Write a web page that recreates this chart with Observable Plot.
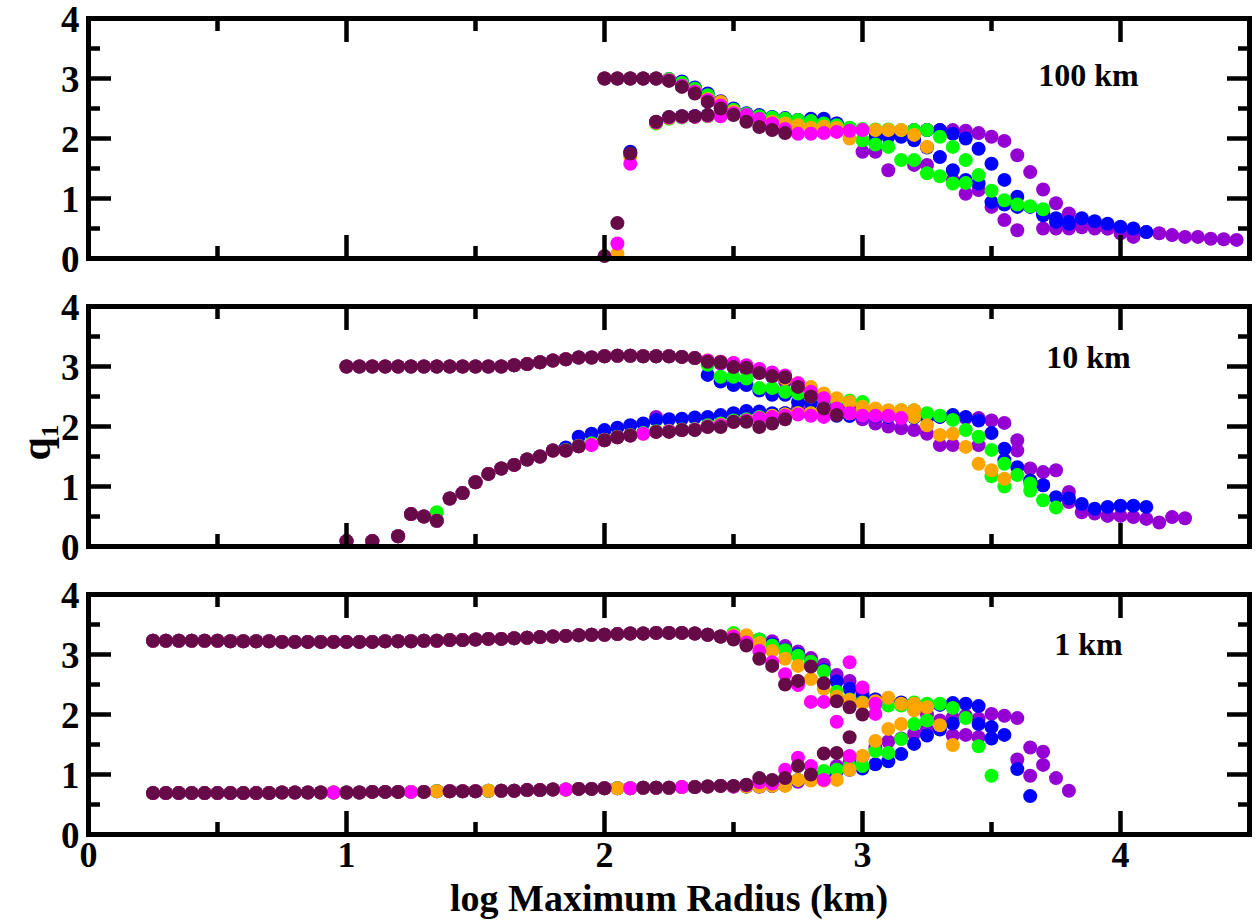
<!DOCTYPE html>
<html>
<head>
<meta charset="utf-8">
<script src="https://cdn.jsdelivr.net/npm/d3@7"></script>
<script src="https://cdn.jsdelivr.net/npm/@observablehq/plot@0.6"></script>
<style>
  html, body { margin: 0; padding: 0; background: #fff; }
  #chart svg { display: block; }
</style>
</head>
<body>
<div id="chart"></div>
<script>
// ---------------- data ----------------
// drawing order (last on top): violet, blue, green, orange, magenta, maroon
const seriesNames = ["S1", "S2", "S3", "S4", "S5", "S6"];
const seriesColors = ["#9400d3", "#0000ff", "#00ff00", "#ffa500", "#ff00ff", "#670a48"];
const [VIO, BLU, GRN, ORG, MAG, MAR] = seriesNames;
const panelLabels = ["100 km", "10 km", "1 km"];
const xTitle = "log Maximum Radius (km)";
const yTitle = "q\u2081";
const xStep = 0.05;
const xMajor = [0, 1, 2, 3, 4];
const xMinor = [0.5, 1.5, 2.5, 3.5];
const yMajor = [0, 1, 2, 3, 4];
const yMinor = [0.5, 1.5, 2.5, 3.5];

// ---- panel "100 km" (x grid starts at 2.0) ----
const p100UpCommon = [3.00, 3.00, 3.00, 3.00, 3.00]; // 2.0 .. 2.2, all series
// upper-branch tails start at 2.25, lower branches start at 2.0
const p100MaroonUp = [2.96, 2.86, 2.75, 2.61, 2.50, 2.39, 2.28, 2.19, 2.14, 2.09];
const p100MaroonLo = [0.04, 0.59, 1.75, null, 2.28, 2.36, 2.37, 2.37, 2.39];
const p100MagentaUp = [2.97, 2.88, 2.78, 2.64, 2.55, 2.42, 2.39, 2.33, 2.25, 2.16, 2.08, 2.08, 2.09, 2.11, 2.13, 2.14];
const p100MagentaLo = [null, 0.25, 1.58, null, 2.27, 2.35, 2.36, 2.36, 2.38, 2.37];
const p100OrangeUp = [2.97, 2.88, 2.78, 2.66, 2.61, 2.45, 2.38, 2.32, 2.28, 2.25, 2.22, 2.18, 2.20, 2.18, 2.00, 2.14, 2.14, 2.14, 2.14, 2.06, 1.86];
const p100OrangeLo = [null, 0.08, 1.70, null, 2.26, 2.34, 2.36, 2.36, 2.38, 2.38];
const p100GreenUp = [2.99, 2.93, 2.83, 2.72, 2.60, 2.48, 2.41, 2.37, 2.35, 2.33, 2.31, 2.29, 2.25, 2.22, 2.18,
  2.16, 2.15, 2.15, 2.14, 2.14, 2.14, 2.03, 1.86, 1.64, 1.39, 1.13, 0.97, 0.90, 0.87, 0.82];
const p100GreenLo = [null, null, 1.72, null, 2.25, 2.33, 2.35, 2.36, 2.37, 2.38,
  null, null, null, null, null, null, null, null, null, null,
  1.97, 1.90, 1.86, 1.64, 1.64, 1.42, 1.37, 1.25, 1.26];
const p100BlueUp = [2.99, 2.95, 2.85, 2.75, 2.62, 2.50, 2.42, 2.39, 2.36, 2.34, 2.31, 2.33, 2.33, 2.25, 2.17,
  2.14, 2.10, 2.10, 2.12, 2.14, 2.14, 2.14, 2.08, 2.00, 1.83, 1.58, 1.31, 1.03, 0.86, 0.75,
  0.67, 0.61, 0.67, 0.62, 0.58, 0.53, 0.50, 0.44];
const p100BlueLo = [null, null, 1.78, null, 2.27, 2.35, 2.37, 2.37, 2.39, 2.39,
  null, null, null, null, null, null, null, null, null, null, null,
  2.00, 2.03, 2.03, 1.97, 1.85, 1.69, 1.47, 1.31, 1.25, 0.94, 0.90, 0.86, null, 0.72, 0.61, 0.58];
const p100PurpleUp = [2.98, 2.90, 2.80, 2.68, 2.56, 2.45, 2.40, 2.37, 2.35, 2.33, 2.31, 2.30, 2.28, 2.25, 2.17,
  2.14, 2.12, 2.12, 2.12, 2.13, 2.14, 2.14, 2.14, 2.13, 2.09, 2.03, 1.96, 1.72, 1.44, 1.15,
  0.92, 0.75, 0.64, 0.56, 0.50, 0.47, 0.39, 0.44, 0.42, 0.39, 0.36, 0.36, 0.33, 0.32, 0.31];
const p100PurpleLo = [null, null, 1.76, null, 2.27, 2.35, 2.36, 2.37, 2.38, 2.38,
  null, null, null, null, null, null, null, null, null, null,
  1.78, 1.78, 1.47, null, 1.56, 1.56, null, 1.31, 1.08, 1.14,
  0.86, 0.64, 0.47, null, 0.50, 0.50, 0.50, 0.52, 0.50, 0.50, 0.42, 0.36];

// ---- panel "10 km" (x grid starts at 1.0) ----
const p10UpCommon = [3.00, 3.00, 3.00, 3.00, 3.00, 3.00, 3.00, 3.00, 3.00, 3.00,
  3.00, 3.00, 3.00, 3.02, 3.04, 3.07, 3.10, 3.12, 3.15, 3.15,
  3.17, 3.18, 3.18, 3.17, 3.17, 3.17, 3.16, 3.14]; // 1.0 .. 2.35
const p10LoCommon = [0.09, null, 0.09, null, 0.17, 0.54, 0.50, 0.43, 0.80, 0.89,
  1.07, 1.21, 1.30, 1.36, 1.45, 1.50, 1.60]; // 1.0 .. 1.8
const p10GreenLoEarly = [0.57]; // green peeks out at x = 1.35
// upper tails start at 2.4, lower tails at 1.85
const p10MaroonUp = [3.08, 3.07, 2.99, 2.98, 2.89, 2.84, 2.82, 2.66, 2.50, 2.30, 2.19];
const p10MaroonLo = [1.60, 1.67, null, 1.77, 1.82, 1.85, null, 1.91, 1.91, 1.94, 1.94, 1.99, 1.99, 2.08, 2.08, 1.99, 2.05, 2.12];
const p10MagentaUp = [3.10, 3.08, 3.06, 3.02, 2.96, 2.90, 2.85, 2.72, 2.58, 2.47, 2.30, 2.22, 2.18, 2.18, 2.18, 2.14];
const p10MagentaLo = [1.60, 1.67, 1.69, 1.77, 1.82, 1.85, 1.88, 1.91, 1.92, 1.94, 1.95, 2.00, 2.02, 2.08, 2.10, 2.14, 2.16, 2.18, 2.20, 2.18, 2.16];
const p10OrangeUp = [3.10, 3.08, 3.06, 3.00, 2.95, 2.88, 2.80, 2.72, 2.66, 2.55, 2.47, 2.41, 2.33, 2.30, 2.27, 2.27,
  2.27, 2.02, 1.86, 1.88, 1.66, 1.38, 1.27, 1.13];
const p10OrangeLo = [1.60, 1.67, 1.70, 1.77, 1.82, 1.85, 1.88, 1.91, 1.92, 1.94, 1.95, 2.00, 2.03, 2.08, 2.10, 2.14,
  2.18, 2.20, 2.22, 2.22, 2.22, 2.22, 2.22, 2.20, 2.20, 2.18, 2.16, 2.16];
const p10GreenUp = [3.03, 2.83, 2.83, 2.80, 2.64, 2.64, 2.58, 2.55, 2.50, 2.47, 2.44, 2.43, 2.41, 2.27, 2.25, 2.27,
  2.27, 2.22, 2.18, 2.11, 1.94, 1.83, 1.61, 1.38, 1.19, 1.05, 0.77, 0.65];
const p10GreenLo = [1.61, 1.68, 1.72, 1.78, 1.83, 1.86, 1.89, 1.92, 1.93, 1.95, 1.96, 2.02, 2.05, 2.10, 2.12, 2.16,
  2.18, 2.20, 2.22, 2.22, 2.22, 2.22, 2.22, 2.22, 2.22, 2.20, 2.18, 2.16, null, null, null, null, null, 1.17, 1.00, null, 0.93];
const p10BlueUp = [2.86, 2.75, 2.69, 2.69, 2.60, 2.53, 2.53, 2.41, 2.39, 2.30, 2.25, 2.22, 2.20, 2.19, 2.18, 2.17,
  2.16, 2.16, 2.16, 2.19, 2.16, 2.10, 1.89, 1.63, 1.32, 1.10, 1.02, 0.82, 0.80, 0.71, 0.63, 0.66, 0.68, 0.68, 0.66];
const p10BlueLo = [1.65, 1.83, 1.88, 1.94, 1.98, 2.02, 2.05, 2.11, 2.12, 2.13, 2.15, 2.16, 2.19, 2.22, 2.26, 2.25,
  2.22, 2.22, 2.22, 2.20, 2.20, 2.18, 2.18, 2.17, 2.17, 2.16, 2.15, 2.15, 2.14, null, null, null, null, null, 1.44];
const p10PurpleUp = [3.08, 3.05, 3.00, 2.95, 2.90, 2.83, 2.75, 2.65, 2.55, 2.45, 2.38, 2.32, 2.27, 2.25, 2.22, 2.20,
  2.20, 2.18, 2.16, 2.15, 2.14, 2.14, 2.10, 2.06, 1.77, 1.30, 1.24, 1.27, 0.91, 0.57, 0.55, 0.51, 0.51, 0.49,
  0.46, 0.40, 0.49, 0.47];
const p10PurpleLo = [1.60, 1.67, 1.70, 1.77, 1.82, 1.85, 1.89, 2.16, 1.92, 1.94, 1.95,
  2.00, 2.03, 2.08, 2.10, 2.14, 2.18, 2.22, 2.30,
  2.25, 2.22, 2.20, 2.18, 2.12, 2.05, 2.00, 1.97, 1.94, 1.88, 1.69, 1.69, null, 1.69, null, null, 1.60, null, 1.02, null, 0.74];

// ---- panel "1 km" (x grid starts at 0.25) ----
const p1kUpCommon = [3.23, 3.23, 3.23, 3.23, 3.23, 3.23, 3.22, 3.22, 3.22, 3.22,
  3.21, 3.21, 3.21, 3.21, 3.21, 3.21, 3.21, 3.21, 3.22, 3.22,
  3.22, 3.23, 3.23, 3.24, 3.24, 3.25, 3.26, 3.26, 3.27, 3.28,
  3.29, 3.30, 3.31, 3.32, 3.33, 3.33, 3.34, 3.35, 3.35, 3.36,
  3.36, 3.36, 3.35, 3.33, 3.30]; // 0.25 .. 2.45
const p1kLoCommon = [0.69, 0.69, 0.69, 0.69, 0.69, 0.69, 0.69, 0.69, 0.69, 0.69,
  0.70, 0.70, 0.70, 0.70, 0.70, 0.70, 0.70, 0.71, 0.71, 0.71,
  0.71, 0.71, 0.72, 0.72, 0.72, 0.72, 0.73, 0.73, 0.73, 0.74,
  0.74, 0.75, 0.75, 0.76, 0.76, 0.77, 0.77, 0.77, 0.78, 0.78,
  0.78, 0.79, 0.79, 0.80, 0.81]; // 0.25 .. 2.45
const p1kMaroonLoGaps = [0.95, 1.25, 1.35, 1.55, 1.85, 2.05, 2.1, 2.3];
const p1kMagentaLoGaps = [1.35, 1.55, 2.05];
// tails start at 2.5
const p1kMaroonUp = [3.25, 3.15, 2.93, 2.81, 2.50, 2.56, 2.80, 2.52, 2.22, 2.12, 2.00];
const p1kMaroonLo = [0.81, 0.83, 0.94, 0.91, 0.94, 1.14, 1.00, 1.35, 1.36, 1.62];
const p1kMagentaUp = [3.30, 3.20, 3.06, 2.87, 2.67, 2.49, 2.21, 2.21, 1.88, 2.87, 2.45, 2.18];
const p1kMagentaLo = [0.80, 0.82, 0.87, 0.85, 1.08, 1.28, 1.14, 0.91, null, 1.31, null, 2.01];
const p1kOrangeUp = [3.32, 3.32, 3.19, 3.06, 2.93, 2.81, 2.59, 2.43, 2.30, 2.24, 2.19, 2.22, 2.28, 2.18, 2.18, 2.12, 1.82, 1.49];
const p1kOrangeLo = [0.80, 0.80, 0.80, 0.81, 0.81, 0.91, 0.90, 0.90, 0.91, 1.08, 1.31, 1.56, 1.76, 1.84, 2.07];
const p1kGreenUp = [3.36, 3.30, 3.25, 3.15, 3.07, 2.98, 2.88, 2.72, 2.38, 2.25, 2.20, 2.16, 2.15, 2.15, 2.20, 2.18,
  2.18, 2.11, 1.94, 1.47, 0.98];
const p1kGreenLo = [0.80, 0.80, 0.81, 0.82, 0.85, 0.91, 0.97, 1.06, 1.08, 1.14, 1.14, 1.39, 1.36, 1.59, 1.84, 1.90];
const p1kBlueUp = [3.33, 3.30, 3.24, 3.17, 3.08, 3.01, 2.87, 2.74, 2.55, 2.43, 2.30, 2.25, 2.20, 2.20, 2.18, 2.14,
  2.16, 2.19, 2.18, 2.14, 1.79, 1.66, 1.09, 0.64];
const p1kBlueLo = [0.80, 0.80, 0.80, 0.81, 0.82, 0.91, 0.95, 1.00, 1.05, 1.08, 1.10, 1.17, 1.22, 1.34, 1.51, 1.65,
  1.75, 1.85, null, 1.84, 1.60];
const p1kPurpleUp = [3.33, 3.30, 3.25, 3.22, 3.14, 3.05, 2.94, 2.83, 2.66, 2.56, 2.35, 2.25, 2.20, 2.18, 2.10, 2.00,
  1.90, 1.95, 1.98, 1.93, 2.01, 1.98, 1.94, 1.45, 1.38];
const p1kPurpleLo = [0.80, 0.80, 0.80, 0.81, 0.82, 0.88, 0.92, 0.98, 1.14, 1.20, 1.30, 1.45, 1.55, 1.60, 1.68, 1.75,
  null, 1.65, 1.66, 1.62, null, null, 1.25, 0.98, 1.16, 0.94, 0.73];

// ---------------- build rows ----------------
function pushRun(rows, series, start, values, gaps = []) {
  values.forEach((q, i) => {
    const x = Math.round((start + i * xStep) * 100) / 100;
    if (q == null || gaps.includes(x)) return;
    rows.push({series, x, q});
  });
}
function ordered(rows) {
  return rows.map((d, i) => [d, i])
    .sort((a, b) => (seriesNames.indexOf(a[0].series) - seriesNames.indexOf(b[0].series)) || (a[1] - b[1]))
    .map(d => d[0]);
}

const rows100 = [];
for (const s of seriesNames) pushRun(rows100, s, 2.0, p100UpCommon);
pushRun(rows100, MAR, 2.25, p100MaroonUp);  pushRun(rows100, MAR, 2.0, p100MaroonLo);
pushRun(rows100, MAG, 2.25, p100MagentaUp); pushRun(rows100, MAG, 2.0, p100MagentaLo);
pushRun(rows100, ORG, 2.25, p100OrangeUp);  pushRun(rows100, ORG, 2.0, p100OrangeLo);
pushRun(rows100, GRN, 2.25, p100GreenUp);   pushRun(rows100, GRN, 2.0, p100GreenLo);
pushRun(rows100, BLU, 2.25, p100BlueUp);    pushRun(rows100, BLU, 2.0, p100BlueLo);
pushRun(rows100, VIO, 2.25, p100PurpleUp);  pushRun(rows100, VIO, 2.0, p100PurpleLo);

const rows10 = [];
for (const s of seriesNames) { pushRun(rows10, s, 1.0, p10UpCommon); pushRun(rows10, s, 1.0, p10LoCommon); }
pushRun(rows10, GRN, 1.35, p10GreenLoEarly);
pushRun(rows10, MAR, 2.4, p10MaroonUp);   pushRun(rows10, MAR, 1.85, p10MaroonLo);
pushRun(rows10, MAG, 2.4, p10MagentaUp);  pushRun(rows10, MAG, 1.85, p10MagentaLo);
pushRun(rows10, ORG, 2.4, p10OrangeUp);   pushRun(rows10, ORG, 1.85, p10OrangeLo);
pushRun(rows10, GRN, 2.4, p10GreenUp);    pushRun(rows10, GRN, 1.85, p10GreenLo);
pushRun(rows10, BLU, 2.4, p10BlueUp);     pushRun(rows10, BLU, 1.85, p10BlueLo);
pushRun(rows10, VIO, 2.4, p10PurpleUp);   pushRun(rows10, VIO, 1.85, p10PurpleLo);

const rows1k = [];
for (const s of seriesNames) {
  pushRun(rows1k, s, 0.25, p1kUpCommon);
  const gaps = s === MAR ? p1kMaroonLoGaps : s === MAG ? p1kMagentaLoGaps : [];
  pushRun(rows1k, s, 0.25, p1kLoCommon, gaps);
}
pushRun(rows1k, MAR, 2.5, p1kMaroonUp);   pushRun(rows1k, MAR, 2.5, p1kMaroonLo);
pushRun(rows1k, MAG, 2.5, p1kMagentaUp);  pushRun(rows1k, MAG, 2.5, p1kMagentaLo);
pushRun(rows1k, ORG, 2.5, p1kOrangeUp);   pushRun(rows1k, ORG, 2.5, p1kOrangeLo);
pushRun(rows1k, GRN, 2.5, p1kGreenUp);    pushRun(rows1k, GRN, 2.5, p1kGreenLo);
pushRun(rows1k, BLU, 2.5, p1kBlueUp);     pushRun(rows1k, BLU, 2.5, p1kBlueLo);
pushRun(rows1k, VIO, 2.5, p1kPurpleUp);   pushRun(rows1k, VIO, 2.5, p1kPurpleLo);

// ---------------- drawing ----------------
const FONT = "'Liberation Serif', 'Times New Roman', serif";
const W = 1258, ML = 88, MR = 9, INNER = 240;

function tickAxes() {
  const common = {tickFormat: () => "", label: null, stroke: "black", strokeWidth: 4.5};
  return [
    Plot.axisY({...common, ticks: yMajor, anchor: "left", tickSize: 23, dx: 23}),
    Plot.axisY({...common, ticks: yMinor, anchor: "left", tickSize: 12, dx: 12}),
    Plot.axisY({...common, ticks: yMajor, anchor: "right", tickSize: 23, dx: -23}),
    Plot.axisY({...common, ticks: yMinor, anchor: "right", tickSize: 12, dx: -12}),
    Plot.axisX({...common, ticks: xMajor, anchor: "top", tickSize: 23, dy: 23}),
    Plot.axisX({...common, ticks: xMinor, anchor: "top", tickSize: 12, dy: 12}),
    Plot.axisX({...common, ticks: xMajor, anchor: "bottom", tickSize: 23, dy: -23}),
    Plot.axisX({...common, ticks: xMinor, anchor: "bottom", tickSize: 12, dy: -12})
  ];
}

function makePanel(rows, label, {mt, mb, labelDy, xLabels, yLabelTitle}) {
  const marks = [
    Plot.dot(rows, {x: "x", y: "q", r: 7, fill: "series"}),
    Plot.frame({stroke: "black", strokeWidth: 5}),
    ...tickAxes(),
    Plot.axisY({ticks: yMajor, anchor: "left", tickSize: 0, tickPadding: 9, dy: 2, tickFormat: d => String(d),
      label: null, fontSize: 37, fontWeight: "bold", fontFamily: FONT}),
    Plot.text([label], {text: d => d, frameAnchor: "top-right", dx: -161, dy: labelDy,
      textAnchor: "middle", lineAnchor: "middle", fontSize: 32, fontWeight: "bold", fontFamily: FONT})
  ];
  if (xLabels) {
    marks.push(Plot.axisX({ticks: xMajor, anchor: "bottom", tickSize: 0, tickPadding: 7, tickFormat: d => String(d),
      label: null, fontSize: 36, fontWeight: "bold", fontFamily: FONT}));
    marks.push(Plot.text([xTitle], {text: d => d, frameAnchor: "bottom", dy: 64, textAnchor: "middle",
      lineAnchor: "middle", fontSize: 38, fontWeight: "bold", fontFamily: FONT}));
  }
  if (yLabelTitle) {
    marks.push(Plot.text([yTitle], {text: d => d, frameAnchor: "left", dx: -52, dy: 16, rotate: -90,
      textAnchor: "middle", lineAnchor: "middle", fontSize: 42, fontWeight: "bold", fontFamily: FONT}));
  }
  return Plot.plot({
    width: W,
    height: mt + INNER + mb,
    marginTop: mt, marginBottom: mb, marginLeft: ML, marginRight: MR,
    x: {domain: [0, 4.5]},
    y: {domain: [0, 4]},
    color: {type: "ordinal", domain: seriesNames, range: seriesColors},
    style: {fontFamily: FONT, fontWeight: "bold", fontSize: "36px", background: "white", color: "black", overflow: "visible"},
    marks
  });
}

const chart = document.getElementById("chart");
chart.append(makePanel(ordered(rows100), panelLabels[0], {mt: 18, mb: 24, labelDy: 57}));
chart.append(makePanel(ordered(rows10), panelLabels[1], {mt: 24, mb: 24, labelDy: 51, yLabelTitle: true}));
chart.append(makePanel(ordered(rows1k), panelLabels[2], {mt: 24, mb: 87, labelDy: 50, xLabels: true}));
</script>
</body>
</html>
